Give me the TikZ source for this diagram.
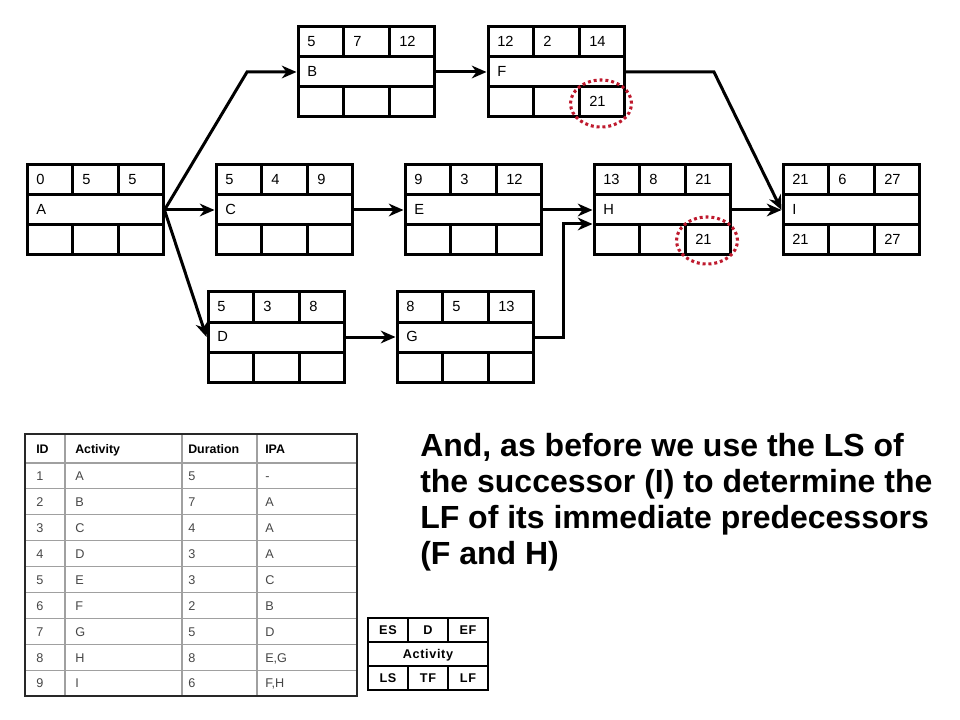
\documentclass[tikz,border=0pt]{standalone}
\usepackage{fontspec}
\setmainfont{Liberation Sans}
\usetikzlibrary{arrows.meta,shapes.geometric}
\definecolor{ovalred}{RGB}{190,25,45}
\definecolor{tabline}{RGB}{160,160,160}
\definecolor{tabtext}{RGB}{70,70,70}
\definecolor{tabborder}{RGB}{40,40,40}

\tikzset{
  actframe/.style={rectangle, draw, line width=2.25pt, minimum width=102pt, minimum height=67.5pt, inner sep=0pt},
  boxline/.style={line width=2.25pt},
  celltext/.style={anchor=base west, inner sep=0pt, font=\fontsize{11}{12}\selectfont},
  conn/.style={draw, line width=2.25pt, -{Stealth[length=11pt,width=9.5pt,inset=3.5pt]}},
  ovalmark/.style={ellipse, draw=ovalred, line width=2.3pt, dash pattern=on 2.2pt off 2.2pt, minimum width=45.75pt, minimum height=35.25pt, inner sep=0pt},
  bigtext/.style={anchor=base west, inner sep=0pt, font=\fontsize{24}{27}\selectfont\bfseries},
  tabhead/.style={anchor=base west, inner sep=0pt, font=\fontsize{9.3}{10}\selectfont\bfseries},
  tabbody/.style={anchor=base west, inner sep=0pt, text=tabtext, font=\fontsize{9.5}{10}\selectfont},
  tabinner/.style={draw=tabline, line width=0.8pt},
  tabouter/.style={draw=tabborder, line width=2.2pt},
  legline/.style={draw, line width=1.3pt},
  legtext/.style={anchor=base, inner sep=0pt, font=\fontsize{9.5}{10}\selectfont\bfseries\addfontfeature{LetterSpace=5}},
}

% name, left, top, ES, D, EF, label, LS, LF
\newcommand{\actbox}[9]{%
  \node[actframe] (#1) at (#2+68,#3+45) {};
  \draw[boxline] (#2,#3+30) -- (#2+136,#3+30) (#2,#3+60) -- (#2+136,#3+60)
     (#2+45,#3) -- (#2+45,#3+30) (#2+91,#3) -- (#2+91,#3+30)
     (#2+45,#3+60) -- (#2+45,#3+90) (#2+91,#3+60) -- (#2+91,#3+90);
  \node[celltext] (#1-es) at (#2+9,#3+19.5) {#4};
  \node[celltext] (#1-d)  at (#2+55,#3+19.5) {#5};
  \node[celltext] (#1-ef) at (#2+101,#3+19.5) {#6};
  \node[celltext] (#1-name) at (#2+9,#3+49.5) {#7};
  \if\relax\detokenize{#8}\relax\else\node[celltext] (#1-ls) at (#2+9,#3+79.5) {#8};\fi
  \if\relax\detokenize{#9}\relax\else\node[celltext] (#1-lf) at (#2+101,#3+79.5) {#9};\fi
}

\begin{document}
\begin{tikzpicture}[x=0.75pt, y=-0.75pt]
\useasboundingbox (0,0) rectangle (960,720);

% activity boxes
\actbox{A}{27}{165}{0}{5}{5}{A}{}{}
\actbox{B}{298}{27}{5}{7}{12}{B}{}{}
\actbox{C}{216}{165}{5}{4}{9}{C}{}{}
\actbox{D}{208}{292}{5}{3}{8}{D}{}{}
\actbox{E}{405}{165}{9}{3}{12}{E}{}{}
\actbox{F}{488}{27}{12}{2}{14}{F}{}{21}
\actbox{G}{397}{292}{8}{5}{13}{G}{}{}
\actbox{H}{594}{165}{13}{8}{21}{H}{}{21}
\actbox{I}{783}{165}{21}{6}{27}{I}{21}{27}

% connectors
\coordinate (ab) at (247,72);
\coordinate (gh) at (563,224);
\coordinate (fi) at (714,72);
\draw[conn] (A.east) -- (ab) -- (B.west);
\draw[conn] (A.east) -- (C.west);
\draw[conn] (A.east) -- (D.west);
\draw[conn] (B.east) -- (F.west);
\draw[conn] (C.east) -- (E.west);
\draw[conn] (D.east) -- (G.west);
\draw[conn] (E.east) -- (H.west);
\draw[conn] (G.east) -| (gh) -- (H.west |- gh);
\draw[conn] (F.east) -- (fi) -- (I.west);
\draw[conn] (H.east) -- (I.west);

% red dotted ovals
\node[ovalmark] (F-oval) at (601,103.5) {};
\node[ovalmark] (H-oval) at (707,240.5) {};

% explanatory text
\node[bigtext] (note1) at (420,456.5) {And, as before we use the LS of};
\node[bigtext] (note2) at (420,492.5) {the successor (I) to determine the};
\node[bigtext] (note3) at (420,528.5) {LF of its immediate predecessors};
\node[bigtext] (note4) at (420,564.5) {(F and H)};

% table
\foreach \k in {0,...,8} \draw[tabinner] (25,463+\k*25.9) -- (357,463+\k*25.9);
\foreach \cx in {65,182,257} \draw[tabinner] (\cx,434) -- (\cx,696);
\draw[tabouter] (25,434) rectangle (357,696);
\node[tabhead] (th-id) at (36,453) {ID};
\node[tabhead] (th-act) at (75,453) {Activity};
\node[tabhead] (th-dur) at (188,453) {Duration};
\node[tabhead] (th-ipa) at (265,453) {IPA};
\foreach \id/\act/\dur/\ipa [count=\i] in {1/A/5/-, 2/B/7/A, 3/C/4/A, 4/D/3/A, 5/E/3/C, 6/F/2/B, 7/G/5/D, 8/H/8/{E,G}, 9/I/6/{F,H}} {
  \node[tabbody] (t\i-id) at (36,463+\i*25.9-8.2) {\id};
  \node[tabbody] (t\i-act) at (75,463+\i*25.9-8.2) {\act};
  \node[tabbody] (t\i-dur) at (188,463+\i*25.9-8.2) {\dur};
  \node[tabbody] (t\i-ipa) at (265,463+\i*25.9-8.2) {\ipa};
}

% legend
\draw[legline] (368,618) rectangle (488,690);
\draw[legline] (368,642) -- (488,642) (368,666) -- (488,666)
  (408,618) -- (408,642) (448,618) -- (448,642)
  (408,666) -- (408,690) (448,666) -- (448,690);
\node[legtext] (leg-es) at (388,634.5) {ES};
\node[legtext] (leg-d) at (428,634.5) {D};
\node[legtext] (leg-ef) at (468,634.5) {EF};
\node[legtext] (leg-act) at (428,658.5) {Activity};
\node[legtext] (leg-ls) at (388,682.5) {LS};
\node[legtext] (leg-tf) at (428,682.5) {TF};
\node[legtext] (leg-lf) at (468,682.5) {LF};
\end{tikzpicture}
\end{document}
